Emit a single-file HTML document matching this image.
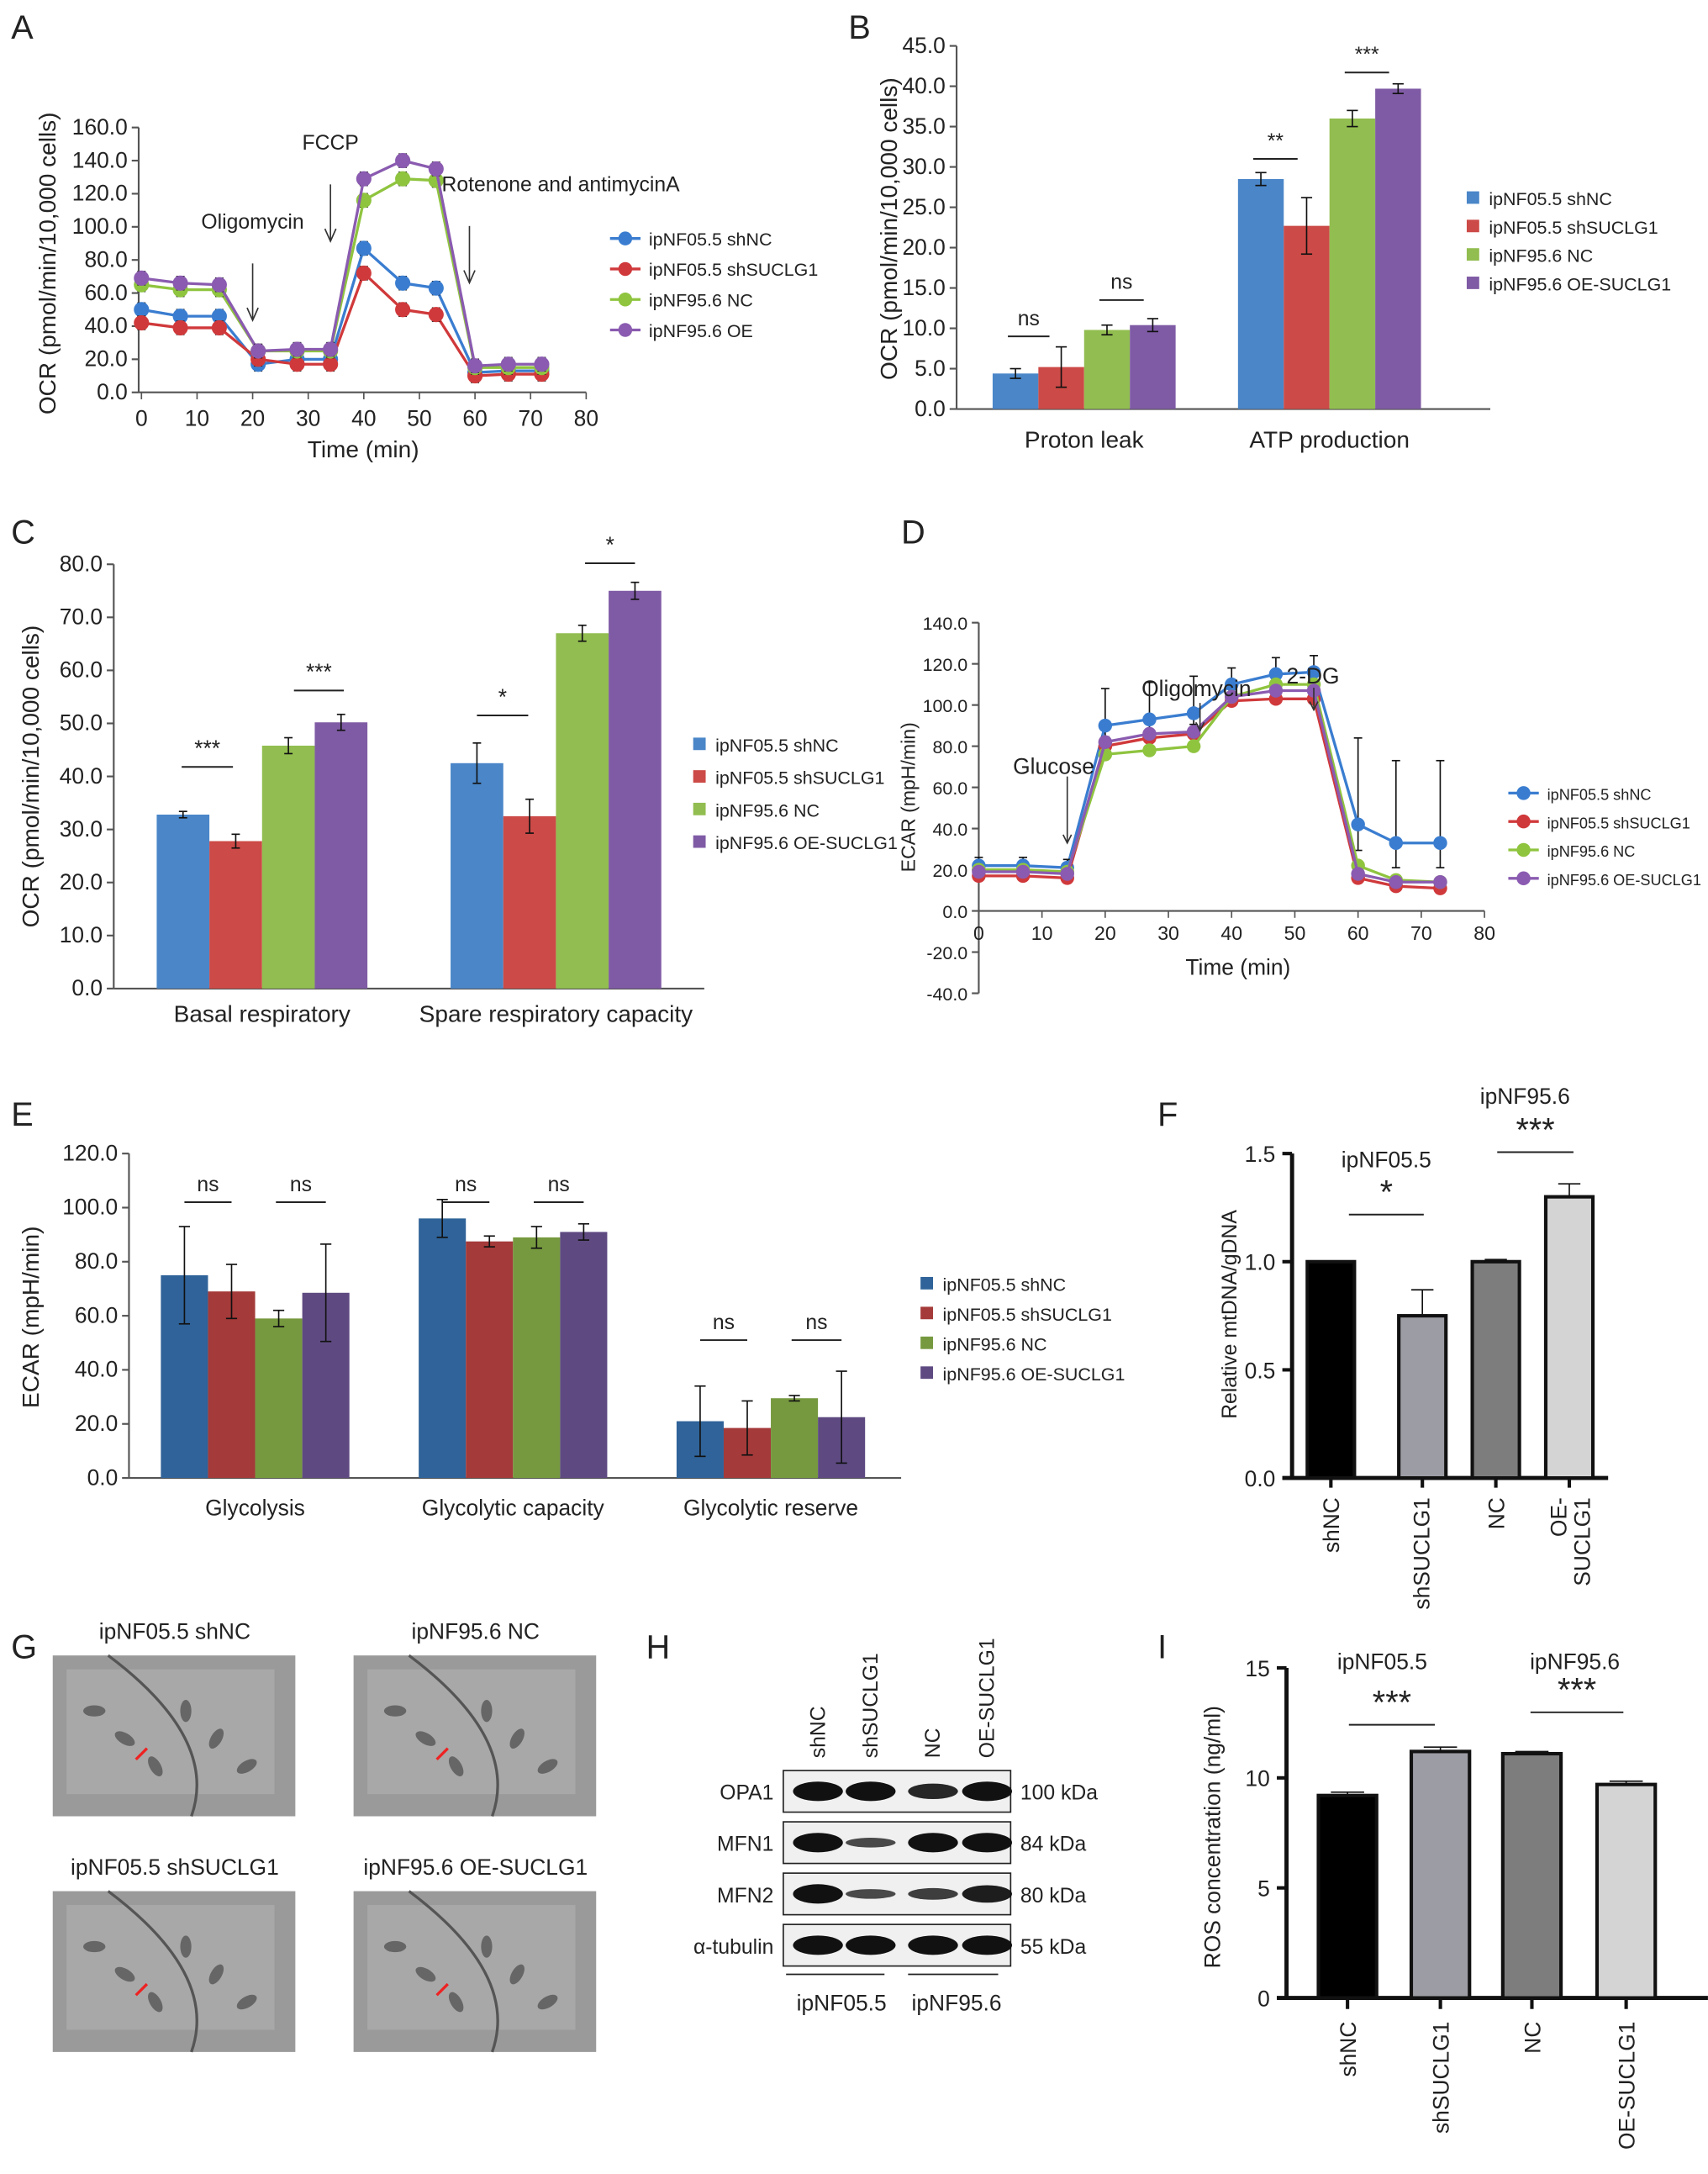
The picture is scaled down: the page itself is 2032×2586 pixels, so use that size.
<!DOCTYPE html>
<html><head><meta charset="utf-8"><style>
html,body{margin:0;padding:0;background:#fff;}
svg{display:block;font-family:"Liberation Sans",Arial,sans-serif;}
</style></head><body>
<svg id="fig" width="2032" height="2586" viewBox="0 0 1232 1568" xmlns="http://www.w3.org/2000/svg">
<rect width="1232" height="1568" fill="#fff"/>
</svg>
<script>
// ---------- data ----------
const seriesNamesA = ["ipNF05.5 shNC","ipNF05.5 shSUCLG1","ipNF95.6 NC","ipNF95.6 OE"];
const timesA = [0,7,14,21,28,34,40,47,53,60,66,72];
const aShNC = [50,46,46,17,20,20,87,66,63,12,13,13];
const aShSU = [42,39,39,20,17,17,72,50,47,10,11,11];
const aNC = [65,62,62,25,25,25,116,129,128,15,15,15];
const aOE = [69,66,65,25,26,26,129,140,135,16,17,17];
const ticksA = [0,20,40,60,80,100,120,140,160];
const xticksA = [0,10,20,30,40,50,60,70,80];

const catsB = ["Proton leak","ATP production"];
const bShNC=[4.4,28.5], bShSU=[5.2,22.7], bNC=[9.8,36], bOE=[10.4,39.7];
const bErr=[[0.6,0.8],[2.5,3.5],[0.6,1],[0.8,0.6]];
const ticksB=[0,5,10,15,20,25,30,35,40,45];

const catsC=["Basal respiratory","Spare respiratory capacity"];
const cShNC=[32.8,42.5], cShSU=[27.8,32.5], cNC=[45.8,67], cOE=[50.2,75];
const cErr=[[0.6,3.8],[1.3,3.2],[1.5,1.5],[1.5,1.6]];
const ticksC=[0,10,20,30,40,50,60,70,80];

const timesD=[0,7,14,20,27,34,40,47,53,60,66,73];
const dShNC=[22,22,21,90,93,96,110,115,116,42,33,33];
const dShSU=[17,17,16,80,84,86,102,103,103,16,12,11];
const dNC=[20,20,19,76,78,80,104,110,110,22,15,14];
const dOE=[19,19,18,82,86,87,104,107,107,18,14,14];
const dErr=[4,4,4,18,18,18,8,8,8,42,40,40];
const ticksD=[-40,-20,0,20,40,60,80,100,120,140];
const xticksD=[0,10,20,30,40,50,60,70,80];

const catsE=["Glycolysis","Glycolytic capacity","Glycolytic reserve"];
const eShNC=[75,96,21], eShSU=[69,87.5,18.5], eNC=[59,89,29.5], eOE=[68.5,91,22.5];
const eErr=[[18,7,13],[10,2,10],[3,4,1],[18,3,17]];
const ticksE=[0,20,40,60,80,100,120];

const catsF=["shNC","shSUCLG1","NC","OE-\nSUCLG1"];
const fVals=[1.0,0.75,1.0,1.3];
const fErr=[0,0.12,0.01,0.06];
const ticksF=[0,0.5,1.0,1.5];

const catsI=["shNC","shSUCLG1","NC","OE-SUCLG1"];
const iVals=[9.2,11.2,11.1,9.7];
const iErr=[0.15,0.2,0.1,0.15];
const ticksI=[0,5,10,15];

// ---------- helpers ----------
const svg=document.getElementById('fig');
const NS="http://www.w3.org/2000/svg";
function el(tag,attrs,parent){const e=document.createElementNS(NS,tag);for(const k in attrs)e.setAttribute(k,attrs[k]);(parent||svg).appendChild(e);return e;}
function txt(x,y,s,size,anchor,parent,extra){const t=el('text',Object.assign({x:x,y:y,'font-size':size,'text-anchor':anchor||'start',fill:'#222'},extra||{}),parent);t.textContent=s;return t;}
function grp(name){const g=el('g',{});return g;}
const colA=["#3a7dd0","#d0393b","#8fc43f","#8a5bb0"];
const colB=["#4a86c8","#cc4a47","#92bd50","#7f5ba5"];
const colE=["#2f6399","#a43a39","#76993f","#5e4a81"];

function panelLabel(s,x,y){const t=txt(x,y,s,24,'start');}

function yAxis(g,x,y0,y1,ticks,sy,fmt,size){
  el('line',{x1:x,y1:sy(ticks[0]),x2:x,y2:sy(ticks[ticks.length-1]),stroke:'#555','stroke-width':1.3},g);
  ticks.forEach(v=>{el('line',{x1:x-5,y1:sy(v),x2:x,y2:sy(v),stroke:'#555','stroke-width':1.3},g);txt(x-8,sy(v)+5,fmt(v),size||15,'end',g);});
}
function legend(g,x,y,dy,names,cols,style,size){
  names.forEach((n,i)=>{const lg=el('g',{},g);
    
    
    if(style==='line'){el('line',{x1:x,y1:y+i*dy,x2:x+22,y2:y+i*dy,stroke:cols[i],'stroke-width':2},lg);el('circle',{cx:x+11,cy:y+i*dy,r:5,fill:cols[i]},lg);txt(x+28,y+i*dy+5,n,size||13,'start',lg);}
    else{el('rect',{x:x,y:y+i*dy-5,width:9,height:9,fill:cols[i]},lg);txt(x+16,y+i*dy+5,n,size||13,'start',lg);}
  });
}
function errBar(g,cx,top,bot,w){el('line',{x1:cx,y1:top,x2:cx,y2:bot,stroke:'#111','stroke-width':1},g);el('line',{x1:cx-w,y1:top,x2:cx+w,y2:top,stroke:'#111','stroke-width':1},g);el('line',{x1:cx-w,y1:bot,x2:cx+w,y2:bot,stroke:'#111','stroke-width':1},g);}
function sig(g,x1,x2,y,s,size){el('line',{x1:x1,y1:y,x2:x2,y2:y,stroke:'#222','stroke-width':1.2},g);txt((x1+x2)/2,y-8,s,size||15,'middle',g);}

// ---------- Panel A ----------
(function(){
  const g=grp('panel-a-ocr-timecourse');
  panelLabel('A',8,28);
  const sx=t=>102+t*4.01, sy=v=>283-v*1.194;
  yAxis(g,100,283,92,ticksA,sy,v=>v.toFixed(1),16);
  el('line',{x1:100,y1:283,x2:sx(80),y2:283,stroke:'#555','stroke-width':1.3},g);
  xticksA.forEach(t=>{el('line',{x1:sx(t),y1:283,x2:sx(t),y2:288,stroke:'#555'},g);txt(sx(t),307,String(t),16,'middle',g);});
  txt(262,330,'Time (min)',17,'middle',g);
  txt(40,190,'OCR (pmol/min/10,000 cells)',17,'middle',g,{transform:'rotate(-90 40 190)'});
  [aShNC,aShSU,aNC,aOE].forEach((s,i)=>{
    const sg=el('g',{},g);
    el('polyline',{points:s.map((v,j)=>sx(timesA[j])+','+sy(v)).join(' '),fill:'none',stroke:colA[i],'stroke-width':2},sg);
    s.forEach((v,j)=>{errBar(sg,sx(timesA[j]),sy(v+4),sy(v-4),3);el('circle',{cx:sx(timesA[j]),cy:sy(v),r:5.5,fill:colA[i]},sg);});
  });
  [[20,'Oligomycin',175,150],[34,'FCCP',118,100],[59,'Rotenone and antimycinA',148,136]].forEach(a=>{
    const x=sx(a[0]);const ty=a[0]===20?175:(a[0]===34?118:148);
    el('line',{x1:x,y1:ty+15,x2:x,y2:ty+55,stroke:'#333'},g);el('path',{d:`M${x-4} ${ty+47}L${x} ${ty+56}L${x+4} ${ty+47}`,fill:'none',stroke:'#333'},g);
    txt(a[0]===59?x-20:x,a[2]-10,a[1],15,a[0]===59?'start':'middle',g);
  });
  legend(g,440,172,22,seriesNamesA,colA,'line',13);
})();

// ---------- Panel B ----------
(function(){
  const g=grp('panel-b-ocr-bars');
  panelLabel('B',612,28);
  const sy=v=>295-v*5.82;
  yAxis(g,690,295,33,ticksB,sy,v=>v.toFixed(1),16);
  el('line',{x1:690,y1:295,x2:1075,y2:295,stroke:'#555','stroke-width':1.3},g);
  const starts=[716,893],w=33;
  [bShNC,bShSU,bNC,bOE].forEach((s,i)=>s.forEach((v,j)=>{
    const x=starts[j]+i*w;const r=el('rect',{x:x,y:sy(v),width:w,height:295-sy(v),fill:colB[i]},g);
    
    errBar(g,x+w/2,sy(v+bErr[i][j]),sy(v-bErr[i][j]),4);}));
  catsB.forEach((c,j)=>txt(starts[j]+2*w,323,c,17,'middle',g));
  sig(g,727,757,sy(9),'ns');sig(g,793,825,sy(13.5),'ns');
  sig(g,904,936,sy(31),'**');sig(g,970,1002,sy(41.7),'***');
  txt(647,165,'OCR (pmol/min/10,000 cells)',17,'middle',g,{transform:'rotate(-90 647 165)'});
  legend(g,1058,143,20.5,["ipNF05.5 shNC","ipNF05.5 shSUCLG1","ipNF95.6 NC","ipNF95.6 OE-SUCLG1"],colB,'rect',13);
})();

// ---------- Panel C ----------
(function(){
  const g=grp('panel-c-ocr-bars');
  panelLabel('C',8,392);
  const y0=713, sy=v=>y0-v*3.825;
  yAxis(g,82,y0,407,ticksC,sy,v=>v.toFixed(1),16);
  el('line',{x1:82,y1:y0,x2:508,y2:y0,stroke:'#555','stroke-width':1.3},g);
  const starts=[113,325],w=38;
  [cShNC,cShSU,cNC,cOE].forEach((s,i)=>s.forEach((v,j)=>{
    const x=starts[j]+i*w;const r=el('rect',{x:x,y:sy(v),width:w,height:y0-sy(v),fill:colB[i]},g);
    
    errBar(g,x+w/2,sy(v+cErr[i][j]),sy(v-cErr[i][j]),3);}));
  txt(189,737,catsC[0],17,'middle',g);txt(401,737,catsC[1],17,'middle',g);
  sig(g,131,168,sy(41.8),'***',16);sig(g,212,248,sy(56.2),'***',16);
  sig(g,344,381,sy(51.5),'*',16);sig(g,422,458,sy(80.2),'*',16);
  txt(28,560,'OCR (pmol/min/10,000 cells)',17,'middle',g,{transform:'rotate(-90 28 560)'});
  legend(g,500,537,23.5,["ipNF05.5 shNC","ipNF05.5 shSUCLG1","ipNF95.6 NC","ipNF95.6 OE-SUCLG1"],colB,'rect',13);
})();

// ---------- Panel D ----------
(function(){
  const g=grp('panel-d-ecar-timecourse');
  panelLabel('D',650,392);
  const sx=t=>706+t*4.56, sy=v=>657-v*1.485;
  yAxis(g,706,657,493,ticksD,sy,v=>v.toFixed(1),13);
  el('line',{x1:706,y1:657,x2:sx(80),y2:657,stroke:'#555','stroke-width':1.3},g);
  xticksD.forEach(t=>{el('line',{x1:sx(t),y1:657,x2:sx(t),y2:662,stroke:'#555'},g);txt(sx(t),678,String(t),14,'middle',g);});
  txt(893,703,'Time (min)',16,'middle',g);
  txt(660,575,'ECAR (mpH/min)',14,'middle',g,{transform:'rotate(-90 660 575)'});
  [dShNC,dShSU,dNC,dOE].forEach((s,i)=>{
    const sg=el('g',{},g);
    el('polyline',{points:s.map((v,j)=>sx(timesD[j])+','+sy(v)).join(' '),fill:'none',stroke:colA[i],'stroke-width':2},sg);
    s.forEach((v,j)=>{if(i===0)errBar(sg,sx(timesD[j]),sy(v+dErr[j]),sy(v-dErr[j]*0.3),3);el('circle',{cx:sx(timesD[j]),cy:sy(v),r:5,fill:colA[i]},sg);});
  });
  // arrows
  [[14,560,608],[35,507,527],[53,496,512]].forEach(a=>{const x=sx(a[0]);
    el('line',{x1:x,y1:a[1],x2:x,y2:a[2],stroke:'#333'},g);
    el('path',{d:`M${x-3} ${a[2]-6}L${x} ${a[2]}L${x+3} ${a[2]-6}`,fill:'none',stroke:'#333'},g);});
  txt(760,558,'Glucose',16,'middle',g);
  txt(863,502,'Oligomycin',16,'middle',g);
  txt(928,493,'2-DG',16,'start',g);
  legend(g,1088,572,20.5,["ipNF05.5 shNC","ipNF05.5 shSUCLG1","ipNF95.6 NC","ipNF95.6 OE-SUCLG1"],colA,'line',11);
})();

// ---------- Panel E ----------
(function(){
  const g=grp('panel-e-ecar-bars');
  panelLabel('E',8,812);
  const sy=v=>1066-v*1.95;
  yAxis(g,93,1066,832,ticksE,sy,v=>v.toFixed(1),16);
  el('line',{x1:93,y1:1066,x2:650,y2:1066,stroke:'#555','stroke-width':1.3},g);
  const starts=[116,302,488],w=34;
  [eShNC,eShSU,eNC,eOE].forEach((s,i)=>s.forEach((v,j)=>{
    const x=starts[j]+i*w;const r=el('rect',{x:x,y:sy(v),width:w,height:1066-sy(v),fill:colE[i]},g);
    
    errBar(g,x+w/2,sy(v+eErr[i][j]),sy(v-eErr[i][j]),4);}));
  catsE.forEach((c,j)=>txt(starts[j]+2*w,1093,c,16,'middle',g));
  [[0,102],[1,102],[2,51]].forEach(p=>{const s=starts[p[0]];sig(g,s+17,s+51,sy(p[1]),'ns');sig(g,s+83,s+119,sy(p[1]),'ns');});
  txt(28,950,'ECAR (mpH/min)',17,'middle',g,{transform:'rotate(-90 28 950)'});
  legend(g,664,926,21.5,["ipNF05.5 shNC","ipNF05.5 shSUCLG1","ipNF95.6 NC","ipNF95.6 OE-SUCLG1"],colE,'rect',13);
})();

// ---------- Panel F ----------
(function(){
  const g=grp('panel-f-mtdna');
  panelLabel('F',835,812);
  const sy=v=>1066-v*156;
  el('line',{x1:932,y1:1066,x2:932,y2:sy(1.5),stroke:'#111','stroke-width':3},g);
  ticksF.forEach(v=>{el('line',{x1:925,y1:sy(v),x2:932,y2:sy(v),stroke:'#111','stroke-width':2.5},g);txt(920,sy(v)+6,v.toFixed(1),16,'end',g);});
  el('line',{x1:925,y1:1066,x2:1160,y2:1066,stroke:'#111','stroke-width':3},g);
  const xs=[943,1009,1062,1115],w=34,fills=['#000','#9c9ca4','#7d7d7d','#d4d4d4'];
  fVals.forEach((v,i)=>{const r=el('rect',{x:xs[i],y:sy(v),width:w,height:1066-sy(v),fill:fills[i],stroke:'#111','stroke-width':2.5},g);
    
    if(fErr[i])errBar(g,xs[i]+w/2,sy(v+fErr[i]),sy(v),8);
    el('line',{x1:xs[i]+w/2,y1:1066,x2:xs[i]+w/2,y2:1073,stroke:'#111','stroke-width':2.5},g);});
  [['shNC',960],['shSUCLG1',1025],['NC',1079]].forEach(c=>txt(c[1]+6,1080,c[0],16,'end',g,{transform:`rotate(-90 ${c[1]+6} 1080)`}));
  txt(1130,1080,'OE-',16,'end',g,{transform:'rotate(-90 1130 1080)'});
  txt(1147,1080,'SUCLG1',16,'end',g,{transform:'rotate(-90 1147 1080)'});
  sig(g,973,1027,876,'*',24);txt(1000,842,'ipNF05.5',16,'middle',g);
  sig(g,1080,1135,831,'***',24);txt(1100,796,'ipNF95.6',16,'middle',g);
  txt(892,948,'Relative mtDNA/gDNA',15,'middle',g,{transform:'rotate(-90 892 948)'});
})();

// ---------- Panel G ----------
(function(){
  const g=grp('panel-g-em-images');
  panelLabel('G',8,1196);
  const imgs=[[38,1194,'ipNF05.5 shNC'],[255,1194,'ipNF95.6 NC'],[38,1364,'ipNF05.5 shSUCLG1'],[255,1364,'ipNF95.6 OE-SUCLG1']];
  imgs.forEach(m=>{
    txt(m[0]+88,m[1]-12,m[2],16,'middle',g);
    const r=el('rect',{x:m[0],y:m[1],width:175,height:116,fill:'#9a9a9a'},g);
    
    el('rect',{x:m[0]+10,y:m[1]+10,width:150,height:90,fill:'#b2b2b2',opacity:0.6},g);
    el('path',{d:`M${m[0]+40} ${m[1]} Q${m[0]+120} ${m[1]+60} ${m[0]+100} ${m[1]+116}`,fill:'none',stroke:'#555','stroke-width':2},g);
    for(let k=0;k<6;k++)el('ellipse',{cx:m[0]+30+k*22,cy:m[1]+40+(k%3)*20,rx:8,ry:4,fill:'#666',transform:`rotate(${k*30} ${m[0]+30+k*22} ${m[1]+40+(k%3)*20})`},g);
    el('line',{x1:m[0]+60,y1:m[1]+75,x2:m[0]+68,y2:m[1]+67,stroke:'#e22','stroke-width':2},g);
  });
})();

// ---------- Panel H ----------
(function(){
  const g=grp('panel-h-western-blot');
  panelLabel('H',466,1196);
  const lanes=['shNC','shSUCLG1','NC','OE-SUCLG1'],lx=[590,628,673,712];
  lanes.forEach((l,i)=>txt(lx[i]+5,1268,l,15,'start',g,{transform:`rotate(-90 ${lx[i]+5} 1268)`}));
  const rows=[['OPA1','100 kDa',[1,1,0.8,1]],['MFN1','84 kDa',[1,0.5,1,1]],['MFN2','80 kDa',[1,0.5,0.6,0.9]],['α-tubulin','55 kDa',[1,1,1,1]]];
  rows.forEach((r,j)=>{const y=1292+j*37;
    el('rect',{x:565,y:y-15,width:164,height:30,fill:'#f0f0f0',stroke:'#222','stroke-width':1},g);
    r[2].forEach((a,i)=>el('ellipse',{cx:lx[i],cy:y,rx:18,ry:7*a,fill:'#111',opacity:0.5+0.5*a},g));
    txt(558,y+6,r[0],15,'end',g);txt(736,y+6,r[1],15,'start',g);});
  el('line',{x1:567,y1:1424,x2:638,y2:1424,stroke:'#222'},g);el('line',{x1:655,y1:1424,x2:720,y2:1424,stroke:'#222'},g);
  txt(607,1450,'ipNF05.5',16,'middle',g);txt(690,1450,'ipNF95.6',16,'middle',g);
})();

// ---------- Panel I ----------
(function(){
  const g=grp('panel-i-ros');
  panelLabel('I',835,1196);
  const sy=v=>1441-v*15.87;
  el('line',{x1:928,y1:1441,x2:928,y2:sy(15),stroke:'#111','stroke-width':3},g);
  ticksI.forEach(v=>{el('line',{x1:921,y1:sy(v),x2:928,y2:sy(v),stroke:'#111','stroke-width':2.5},g);txt(916,sy(v)+6,String(v),16,'end',g);});
  el('line',{x1:921,y1:1441,x2:1232,y2:1441,stroke:'#111','stroke-width':3},g);
  const xs=[951,1018,1084,1152],w=42,fills=['#000','#9c9ca4','#7d7d7d','#d4d4d4'];
  iVals.forEach((v,i)=>{const r=el('rect',{x:xs[i],y:sy(v),width:w,height:1441-sy(v),fill:fills[i],stroke:'#111','stroke-width':2.5},g);
    
    errBar(g,xs[i]+w/2,sy(v+iErr[i]),sy(v),12);
    el('line',{x1:xs[i]+w/2,y1:1441,x2:xs[i]+w/2,y2:1449,stroke:'#111','stroke-width':2.5},g);
    txt(xs[i]+w/2+6,1458,catsI[i],16,'end',g,{transform:`rotate(-90 ${xs[i]+w/2+6} 1458)`});});
  sig(g,973,1035,1244,'***',24);txt(997,1204,'ipNF05.5',16,'middle',g);
  sig(g,1104,1171,1235,'***',24);txt(1136,1204,'ipNF95.6',16,'middle',g);
  txt(880,1325,'ROS concentration (ng/ml)',16,'middle',g,{transform:'rotate(-90 880 1325)'});
})();
</script>
</body></html>
